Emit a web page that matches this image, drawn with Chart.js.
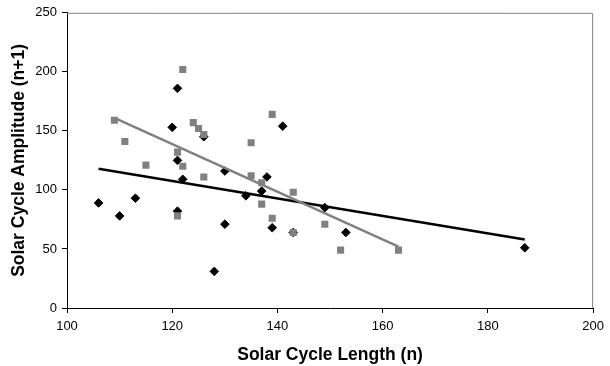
<!DOCTYPE html>
<html lang="en">
<head>
<meta charset="utf-8">
<script src="https://cdn.jsdelivr.net/npm/chart.js"></script>
<style>
  body { margin: 0; background: #fff; }
</style>
</head>
<body>
<canvas id="chartCanvas" width="610" height="366"></canvas>
<script>
  // cycle length (n) vs amplitude of next cycle (n+1)
  const blackLength = [106, 110, 113, 120, 121, 121, 121, 122, 126, 128, 130, 130, 134, 137, 138, 139, 141, 143, 149, 153, 187];
  const blackAmplitude = [89, 78, 93, 153, 186, 125, 82, 109, 145, 31, 116, 71, 95, 99, 111, 68, 154, 64, 85, 64, 51];

  const grayLength = [109, 111, 115, 121, 121, 122, 122, 124, 125, 126, 126, 135, 135, 139, 137, 137, 139, 143, 143, 149, 152, 163];
  const grayAmplitude = [159, 141, 121, 132, 78, 202, 120, 157, 152, 147, 111, 140, 112, 164, 106, 88, 76, 98, 64, 71, 49, 49];

  // trend line end points
  const blackTrendX = [106, 187];
  const blackTrendY = [118, 58];
  const grayTrendX = [109, 163];
  const grayTrendY = [161, 52];

  const xTicks = [100, 120, 140, 160, 180, 200];
  const yTicks = [0, 50, 100, 150, 200, 250];

  const toPoints = (xs, ys) => xs.map((x, i) => ({ x: x, y: ys[i] }));

  const GRAY = '#808080';
  const FONT = '"Liberation Sans", Arial, sans-serif';

  // gray frame on top / right of the plot area
  const frame = {
    id: 'frame',
    beforeDatasetsDraw(chart) {
      const a = chart.chartArea;
      const ctx = chart.ctx;
      ctx.save();
      ctx.strokeStyle = GRAY;
      ctx.lineWidth = 1;
      ctx.beginPath();
      ctx.moveTo(a.left, a.top + 0.5);
      ctx.lineTo(a.right - 0.5, a.top + 0.5);
      ctx.lineTo(a.right - 0.5, a.bottom);
      ctx.stroke();
      ctx.restore();
    }
  };

  const ctx = document.getElementById('chartCanvas').getContext('2d');
  new Chart(ctx, {
    type: 'scatter',
    data: {
      datasets: [
        {
          label: 'Gray trend',
          data: toPoints(grayTrendX, grayTrendY),
          showLine: true,
          borderColor: GRAY,
          borderWidth: 2.5,
          pointRadius: 0,
          order: 0
        },
        {
          label: 'Black trend',
          data: toPoints(blackTrendX, blackTrendY),
          showLine: true,
          borderColor: '#000',
          borderWidth: 2.5,
          pointRadius: 0,
          order: 1
        },
        {
          label: 'Gray',
          data: toPoints(grayLength, grayAmplitude),
          pointStyle: 'rect',
          pointRadius: 5,
          backgroundColor: GRAY,
          borderColor: GRAY,
          borderWidth: 0,
          order: 2
        },
        {
          label: 'Black',
          data: toPoints(blackLength, blackAmplitude),
          pointStyle: 'rectRot',
          pointRadius: 4.3,
          backgroundColor: '#000',
          borderColor: '#000',
          borderWidth: 1,
          order: 3
        }
      ]
    },
    options: {
      responsive: false,
      animation: false,
      layout: { padding: { left: 0, right: 14, top: 8, bottom: 0 } },
      plugins: {
        legend: { display: false },
        tooltip: { enabled: false }
      },
      scales: {
        x: {
          type: 'linear',
          min: 100,
          max: 200,
          afterBuildTicks: (axis) => { axis.ticks = xTicks.map(v => ({ value: v })); },
          afterFit: (axis) => { axis.height = 58; },
          grid: { drawOnChartArea: false, drawTicks: true, tickLength: 5, color: '#000' },
          border: { display: true, color: '#000', width: 1 },
          ticks: { color: '#000', font: { family: FONT, size: 13 }, padding: 6, maxRotation: 0 },
          title: {
            display: true,
            text: 'Solar Cycle Length (n)',
            color: '#000',
            font: { family: FONT, size: 17.5, weight: 'bold' },
            padding: { top: 1, bottom: 0 }
          }
        },
        y: {
          type: 'linear',
          min: 0,
          max: 250,
          afterBuildTicks: (axis) => { axis.ticks = yTicks.map(v => ({ value: v })); },
          afterFit: (axis) => { axis.width = 67; },
          grid: { drawOnChartArea: false, drawTicks: true, tickLength: 5, color: '#000' },
          border: { display: true, color: '#000', width: 1 },
          ticks: { color: '#000', font: { family: FONT, size: 13 }, padding: 5 },
          title: {
            display: true,
            text: 'Solar Cycle Amplitude (n+1)',
            color: '#000',
            font: { family: FONT, size: 17.5, weight: 'bold' },
            padding: { top: 9, bottom: 0 }
          }
        }
      }
    },
    plugins: [frame]
  });
</script>
</body>
</html>
